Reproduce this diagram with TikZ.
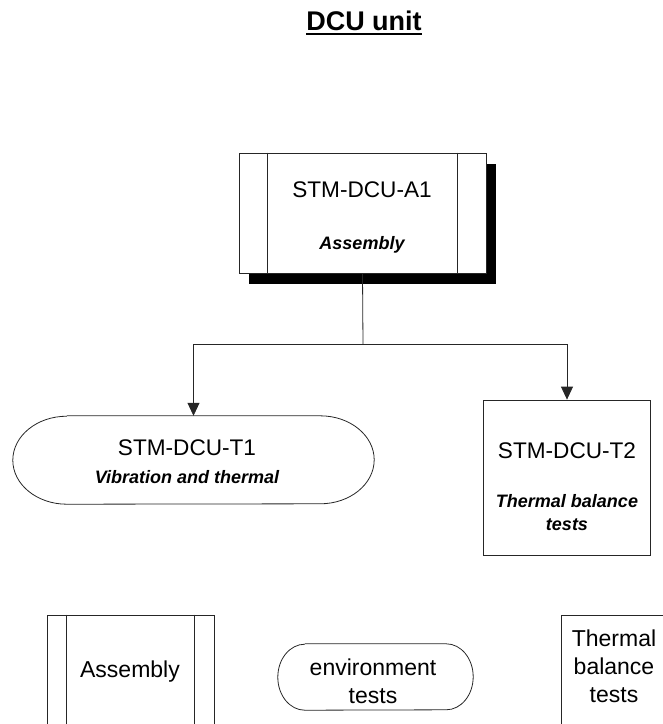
\documentclass[tikz,border=0pt]{standalone}
\usepackage{fontspec}
\setmainfont{Liberation Sans}
\usetikzlibrary{arrows.meta,shadows}
\begin{document}
\begin{tikzpicture}[x=1pt,y=-1pt,
  outline/.style={draw=black!85, line width=0.8pt},
  box/.style={outline, fill=white, inner sep=0pt},
  code/.style={font=\fontsize{22.6}{26}\selectfont, inner sep=0pt},
  plain/.style={font=\fontsize{23}{28}\selectfont, inner sep=0pt, align=center},
  note/.style={font=\fontsize{18}{23}\selectfont\bfseries\itshape, inner sep=0pt, align=center},
  flow/.style={draw=black!85, line width=0.8pt, -{Triangle[length=13pt,width=12pt]}},
]
\useasboundingbox (0,0) rectangle (663,724);
\clip (0,0) rectangle (663,724);

% heading
\node[font=\fontsize{27}{30}\selectfont\bfseries, inner sep=0pt, anchor=base] (title) at (364,30) {DCU unit};
\draw[line width=2pt] ([yshift=-4pt]title.base west) -- ([yshift=-4pt]title.base east);

% assembly step with its drop shadow and side bars
\node[box, minimum width=247pt, minimum height=120pt,
      drop shadow={shadow xshift=10pt, shadow yshift=-11pt, fill=black, opacity=1}] (a1) at (362.5,213) {};
\draw[outline] ([xshift=29pt]a1.north west) -- ([xshift=29pt]a1.south west);
\draw[outline] ([xshift=-29pt]a1.north east) -- ([xshift=-29pt]a1.south east);
\node[code] (a1id) at (362,190) {STM-DCU-A1};
\node[note] (a1name) at (362,245) {Assembly};

% vibration and thermal test (terminator shape)
\node[inner sep=0pt, minimum width=361pt, minimum height=88pt] (t1) at (193.5,460) {};
\draw[outline] ([xshift=54pt]t1.north west) -- ([xshift=-54pt]t1.north east)
  arc[start angle=90, end angle=-90, x radius=54pt, y radius=44pt]
  -- ([xshift=54pt]t1.south west)
  arc[start angle=270, end angle=90, x radius=54pt, y radius=44pt];
\node[code] (t1id) at (187,448) {STM-DCU-T1};
\node[note] (t1name) at (187,477) {Vibration and thermal};

% thermal balance test
\node[box, minimum width=167pt, minimum height=155pt] (t2) at (567,477.5) {};
\node[code] (t2id) at (567,451) {STM-DCU-T2};
\node[note] (t2name) at (567,513) {Thermal balance\\tests};

% connectors
\coordinate (fork) at (363,344);
\draw[outline] (a1.south) -- (fork);
\draw[flow] (fork) -| (t1.north);
\draw[flow] (fork) -| (t2.north);

% legend row
\node[box, minimum width=167pt, minimum height=150pt] (lasm) at (130.5,690) {};
\draw[outline] ([xshift=20pt]lasm.north west) -- ([xshift=20pt]lasm.south west);
\draw[outline] ([xshift=-20pt]lasm.north east) -- ([xshift=-20pt]lasm.south east);
\node[plain] (lasmtext) at (130,672) {Assembly};

\node[inner sep=0pt, minimum width=195pt, minimum height=66pt] (lenv) at (375.5,677) {};
\draw[outline] ([xshift=27pt]lenv.north west) -- ([xshift=-27pt]lenv.north east)
  arc[start angle=90, end angle=-90, x radius=27pt, y radius=33pt]
  -- ([xshift=27pt]lenv.south west)
  arc[start angle=270, end angle=90, x radius=27pt, y radius=33pt];
\node[plain] (lenvtext) at (373,681) {environment\\tests};

\node[box, minimum width=120pt, minimum height=150pt] (ltb) at (621,690) {};
\node[plain] (ltbtext) at (614,666) {Thermal\\balance\\tests};
\end{tikzpicture}
\end{document}
